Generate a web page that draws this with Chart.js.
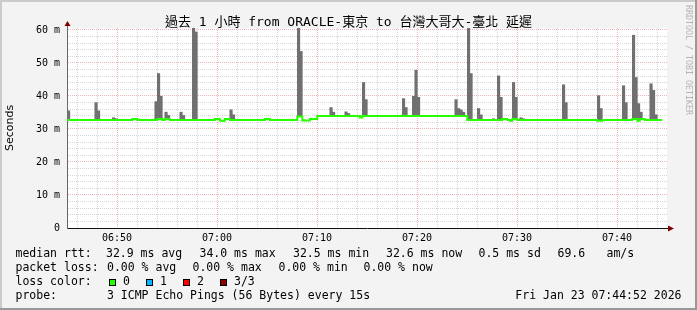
<!DOCTYPE html>
<html>
<head>
<meta charset="utf-8">
<script src="https://cdn.jsdelivr.net/npm/chart.js@4/dist/chart.umd.min.js"></script>
<style>
  html, body { margin: 0; padding: 0; background: #f3f3f3; }
  canvas { display: block; }
</style>
</head>
<body>
<canvas id="pingChart" width="697" height="310"></canvas>
<script>
// rrd step (s) and where sample 0 starts, in seconds after 06:45:00
const STEP = 15;
const FIRST_SAMPLE = 1.8;

// median rtt (ms), each value holds from the given sample index on
const medianFrom = [-1, 26, 28, 36, 38, 39, 41, 59, 61, 63, 65, 79, 81, 92, 94, 97, 100, 117, 118, 134, 135, 160, 174, 176, 177, 178, 180, 212, 214, 226, 228, 229, 231, 238];
const medianMs   = [32.7, 33.0, 32.7, 33.0, 32.7, 33.0, 32.7, 33.0, 32.5, 33.0, 32.7, 33.0, 32.7, 33.8, 32.6, 33.0, 33.9, 33.5, 33.9, 34.0, 33.9, 32.7, 33.0, 32.7, 32.5, 33.0, 32.7, 32.5, 32.7, 33.0, 32.5, 33.0, 32.7, 32.7];

// smoke: highest ping (ms) of the samples that stick out above the median
const smokeSample = [-1, 0, 11, 12, 18, 19, 35, 36, 37, 39, 40, 45, 46, 50, 51, 65, 66, 92, 93, 105, 106, 111, 112, 118, 119, 134, 135, 138, 139, 140, 155, 156, 157, 158, 160, 161, 164, 165, 170, 172, 173, 178, 179, 181, 182, 198, 199, 212, 213, 222, 223, 226, 227, 228, 229, 233, 234, 235];
const smokeTopMs  = [38.2, 35.5, 38.0, 35.5, 33.4, 33.1, 38.3, 46.8, 39.9, 35.1, 34.1, 35.1, 34.1, 61, 59.4, 35.8, 34.3, 61, 53.5, 36.5, 35.1, 35.2, 34.7, 44.1, 38.9, 39.2, 36.5, 39.9, 47.8, 39.6, 38.9, 36.2, 35.8, 35.1, 61, 46.8, 36.2, 34.3, 33.1, 46.1, 39.6, 44.1, 39.6, 33.4, 33.1, 43.4, 38.0, 40.1, 36.2, 43.1, 38.0, 58.4, 45.6, 37.7, 35.1, 43.7, 41.7, 34.3];

// axes
const xGridSeconds = [60, 180, 300, 420, 540, 660, 780, 900, 1020, 1140, 1260, 1380, 1500, 1620, 1740, 1860, 1980, 2100, 2220, 2340, 2460, 2580, 2700, 2820, 2940, 3060, 3180, 3300, 3420, 3540];
const xLabelSeconds = [300, 900, 1500, 2100, 2700, 3300];
const xTickLabels = ['06:50', '07:00', '07:10', '07:20', '07:30', '07:40'];
const yGridMs = [0, 2, 4, 6, 8, 10, 12, 14, 16, 18, 20, 22, 24, 26, 28, 30, 32, 34, 36, 38, 40, 42, 44, 46, 48, 50, 52, 54, 56, 58, 60];
const yLabelMs = [0, 10, 20, 30, 40, 50, 60];
const yTickLabels = ['0', '10 m', '20 m', '30 m', '40 m', '50 m', '60 m'];

// legend texts
const titleText = '過去 1 小時 from ORACLE-東京 to 台灣大哥大-臺北 延遲';
const rttStats = ['32.9 ms avg', '34.0 ms max', '32.5 ms min', '32.6 ms now', '0.5 ms sd', '69.6', 'am/s'];
const lossStats = ['0.00 % avg', '0.00 % max', '0.00 % min', '0.00 % now'];
const lossNames = ['0', '1', '2', '3/3'];
const lossColors = ['#26ff00', '#00b8ff', '#ff0000', '#8b0000'];
const probeText = '3 ICMP Echo Pings (56 Bytes) every 15s';
const stampText = 'Fri Jan 23 07:44:52 2026';

const MONO = '"DejaVu Sans Mono", monospace';

function medianAt(k) {
    let v = medianMs[0];
    for (let i = 0; i < medianFrom.length; i++) {
        if (medianFrom[i] <= k) v = medianMs[i];
    }
    return v;
}

const medianPoints = medianFrom.map((k, i) => ({ x: FIRST_SAMPLE + k * STEP, y: medianMs[i] }));
const smokeBars = smokeSample.map((k, i) => ({
    x: FIRST_SAMPLE + k * STEP + STEP / 2,
    y: [medianAt(k), smokeTopMs[i]]
}));

const rrdLook = {
    id: 'rrdLook',
    beforeDraw(chart) {
        const { ctx, chartArea: a, width, height } = chart;
        ctx.save();
        ctx.fillStyle = '#f3f3f3';
        ctx.fillRect(0, 0, width, height);
        ctx.fillStyle = '#cbcbcb';
        ctx.fillRect(0, 0, width, 2);
        ctx.fillRect(0, 0, 2, height);
        ctx.fillStyle = '#999999';
        ctx.fillRect(width - 2, 0, 2, height);
        ctx.fillRect(0, height - 2, width, 2);
        ctx.fillStyle = '#ffffff';
        ctx.fillRect(a.left, a.top, a.right - a.left, a.bottom - a.top);
        ctx.restore();
    },
    afterDraw(chart) {
        const { ctx, chartArea: a } = chart;
        ctx.save();
        // axis arrows
        ctx.strokeStyle = '#666';
        ctx.lineWidth = 1;
        ctx.beginPath();
        ctx.moveTo(a.left + 0.5, a.top);
        ctx.lineTo(a.left + 0.5, a.top - 3);
        ctx.stroke();
        ctx.strokeStyle = '#111';
        ctx.beginPath();
        ctx.moveTo(a.right, a.bottom + 0.5);
        ctx.lineTo(a.right + 2, a.bottom + 0.5);
        ctx.stroke();
        ctx.fillStyle = '#800000';
        ctx.beginPath();
        ctx.moveTo(a.left + 0.5, a.top - 7);
        ctx.lineTo(a.left - 2.5, a.top - 2);
        ctx.lineTo(a.left + 3.5, a.top - 2);
        ctx.fill();
        ctx.beginPath();
        ctx.moveTo(a.right + 7, a.bottom + 0.5);
        ctx.lineTo(a.right + 1, a.bottom - 2.5);
        ctx.lineTo(a.right + 1, a.bottom + 3.5);
        ctx.fill();

        // title
        ctx.fillStyle = '#000';
        ctx.textBaseline = 'middle';
        ctx.textAlign = 'center';
        ctx.font = '13px "DejaVu Sans Mono", "Noto Sans CJK TC", monospace';
        ctx.fillText(titleText, 348.5, 22.5);

        // watermark
        ctx.save();
        ctx.translate(688, 5);
        ctx.rotate(Math.PI / 2);
        ctx.textAlign = 'left';
        ctx.fillStyle = '#b4b4b4';
        ctx.font = '8.3px ' + MONO;
        ctx.fillText('RRDTOOL / TOBI OETIKER', 0, 0);
        ctx.restore();

        // legend block
        ctx.textAlign = 'left';
        ctx.font = '11.5px ' + MONO;
        ctx.fillStyle = '#000';
        const rows = [254, 268, 282, 296];
        ctx.fillText('median rtt:', 15.5, rows[0]);
        [106, 199.5, 293, 386, 478.5, 557.5, 606.5].forEach((x, i) => ctx.fillText(rttStats[i], x, rows[0]));
        ctx.fillText('packet loss:', 15.5, rows[1]);
        [107, 192.5, 278.5, 363.5].forEach((x, i) => ctx.fillText(lossStats[i], x, rows[1]));
        ctx.fillText('loss color:', 15.5, rows[2]);
        [109, 146, 183, 220].forEach((x, i) => {
            ctx.fillStyle = lossColors[i];
            ctx.fillRect(x, 279, 7, 7);
            ctx.strokeStyle = '#000';
            ctx.strokeRect(x + 0.5, 279.5, 6, 6);
            ctx.fillStyle = '#000';
            ctx.fillText(lossNames[i], x + 14, rows[2]);
        });
        ctx.fillText('probe:', 15.5, rows[3]);
        ctx.fillText(probeText, 107, rows[3]);
        ctx.textAlign = 'right';
        ctx.fillText(stampText, 681.5, rows[3]);
        ctx.restore();
    }
};

const gridColor = major => major ? 'rgba(215,120,120,0.55)' : 'rgba(140,140,140,0.35)';

new Chart(document.getElementById('pingChart'), {
    type: 'bar',
    data: {
        datasets: [
            {
                type: 'line',
                label: 'median rtt',
                data: medianPoints,
                stepped: true,
                borderColor: '#26ff00',
                borderWidth: 2,
                pointRadius: 0,
                order: 0
            },
            {
                type: 'bar',
                label: 'smoke',
                data: smokeBars,
                backgroundColor: '#707070',
                borderWidth: 0,
                barPercentage: 1,
                categoryPercentage: 1,
                order: 1
            }
        ]
    },
    options: {
        responsive: false,
        devicePixelRatio: 1,
        animation: false,
        layout: { padding: { left: 0, top: 28, right: 30, bottom: 62 } },
        plugins: { legend: { display: false }, tooltip: { enabled: false }, title: { display: false } },
        scales: {
            x: {
                type: 'linear',
                min: 0,
                max: 3600,
                offset: false,
                afterBuildTicks: s => { s.ticks = xGridSeconds.map(v => ({ value: v })); },
                afterFit: s => { s.height = 20; },
                ticks: {
                    autoSkip: false,
                    maxRotation: 0,
                    padding: 4,
                    color: '#000',
                    font: { family: MONO, size: 10 },
                    callback: v => { const i = xLabelSeconds.indexOf(v); return i < 0 ? '' : xTickLabels[i]; }
                },
                grid: {
                    offset: false,
                    drawTicks: false,
                    color: c => gridColor(xLabelSeconds.includes(c.tick.value))
                },
                border: { color: '#111', dash: [1, 1] }
            },
            y: {
                min: 0,
                max: 60.6,
                afterBuildTicks: s => { s.ticks = yGridMs.map(v => ({ value: v })); },
                afterFit: s => { s.width = 67; },
                ticks: {
                    autoSkip: false,
                    padding: 7,
                    color: '#000',
                    font: { family: MONO, size: 10 },
                    callback: v => { const i = yLabelMs.indexOf(v); return i < 0 ? '' : yTickLabels[i]; }
                },
                grid: {
                    drawTicks: false,
                    color: c => gridColor(yLabelMs.includes(c.tick.value) && c.tick.value > 0)
                },
                border: { color: '#666', dash: [1, 1] },
                title: {
                    display: true,
                    text: 'Seconds',
                    color: '#000',
                    font: { family: '"DejaVu Sans", sans-serif', size: 11 },
                    padding: { top: 4, bottom: 0 }
                }
            }
        }
    },
    plugins: [rrdLook]
});
</script>
</body>
</html>
